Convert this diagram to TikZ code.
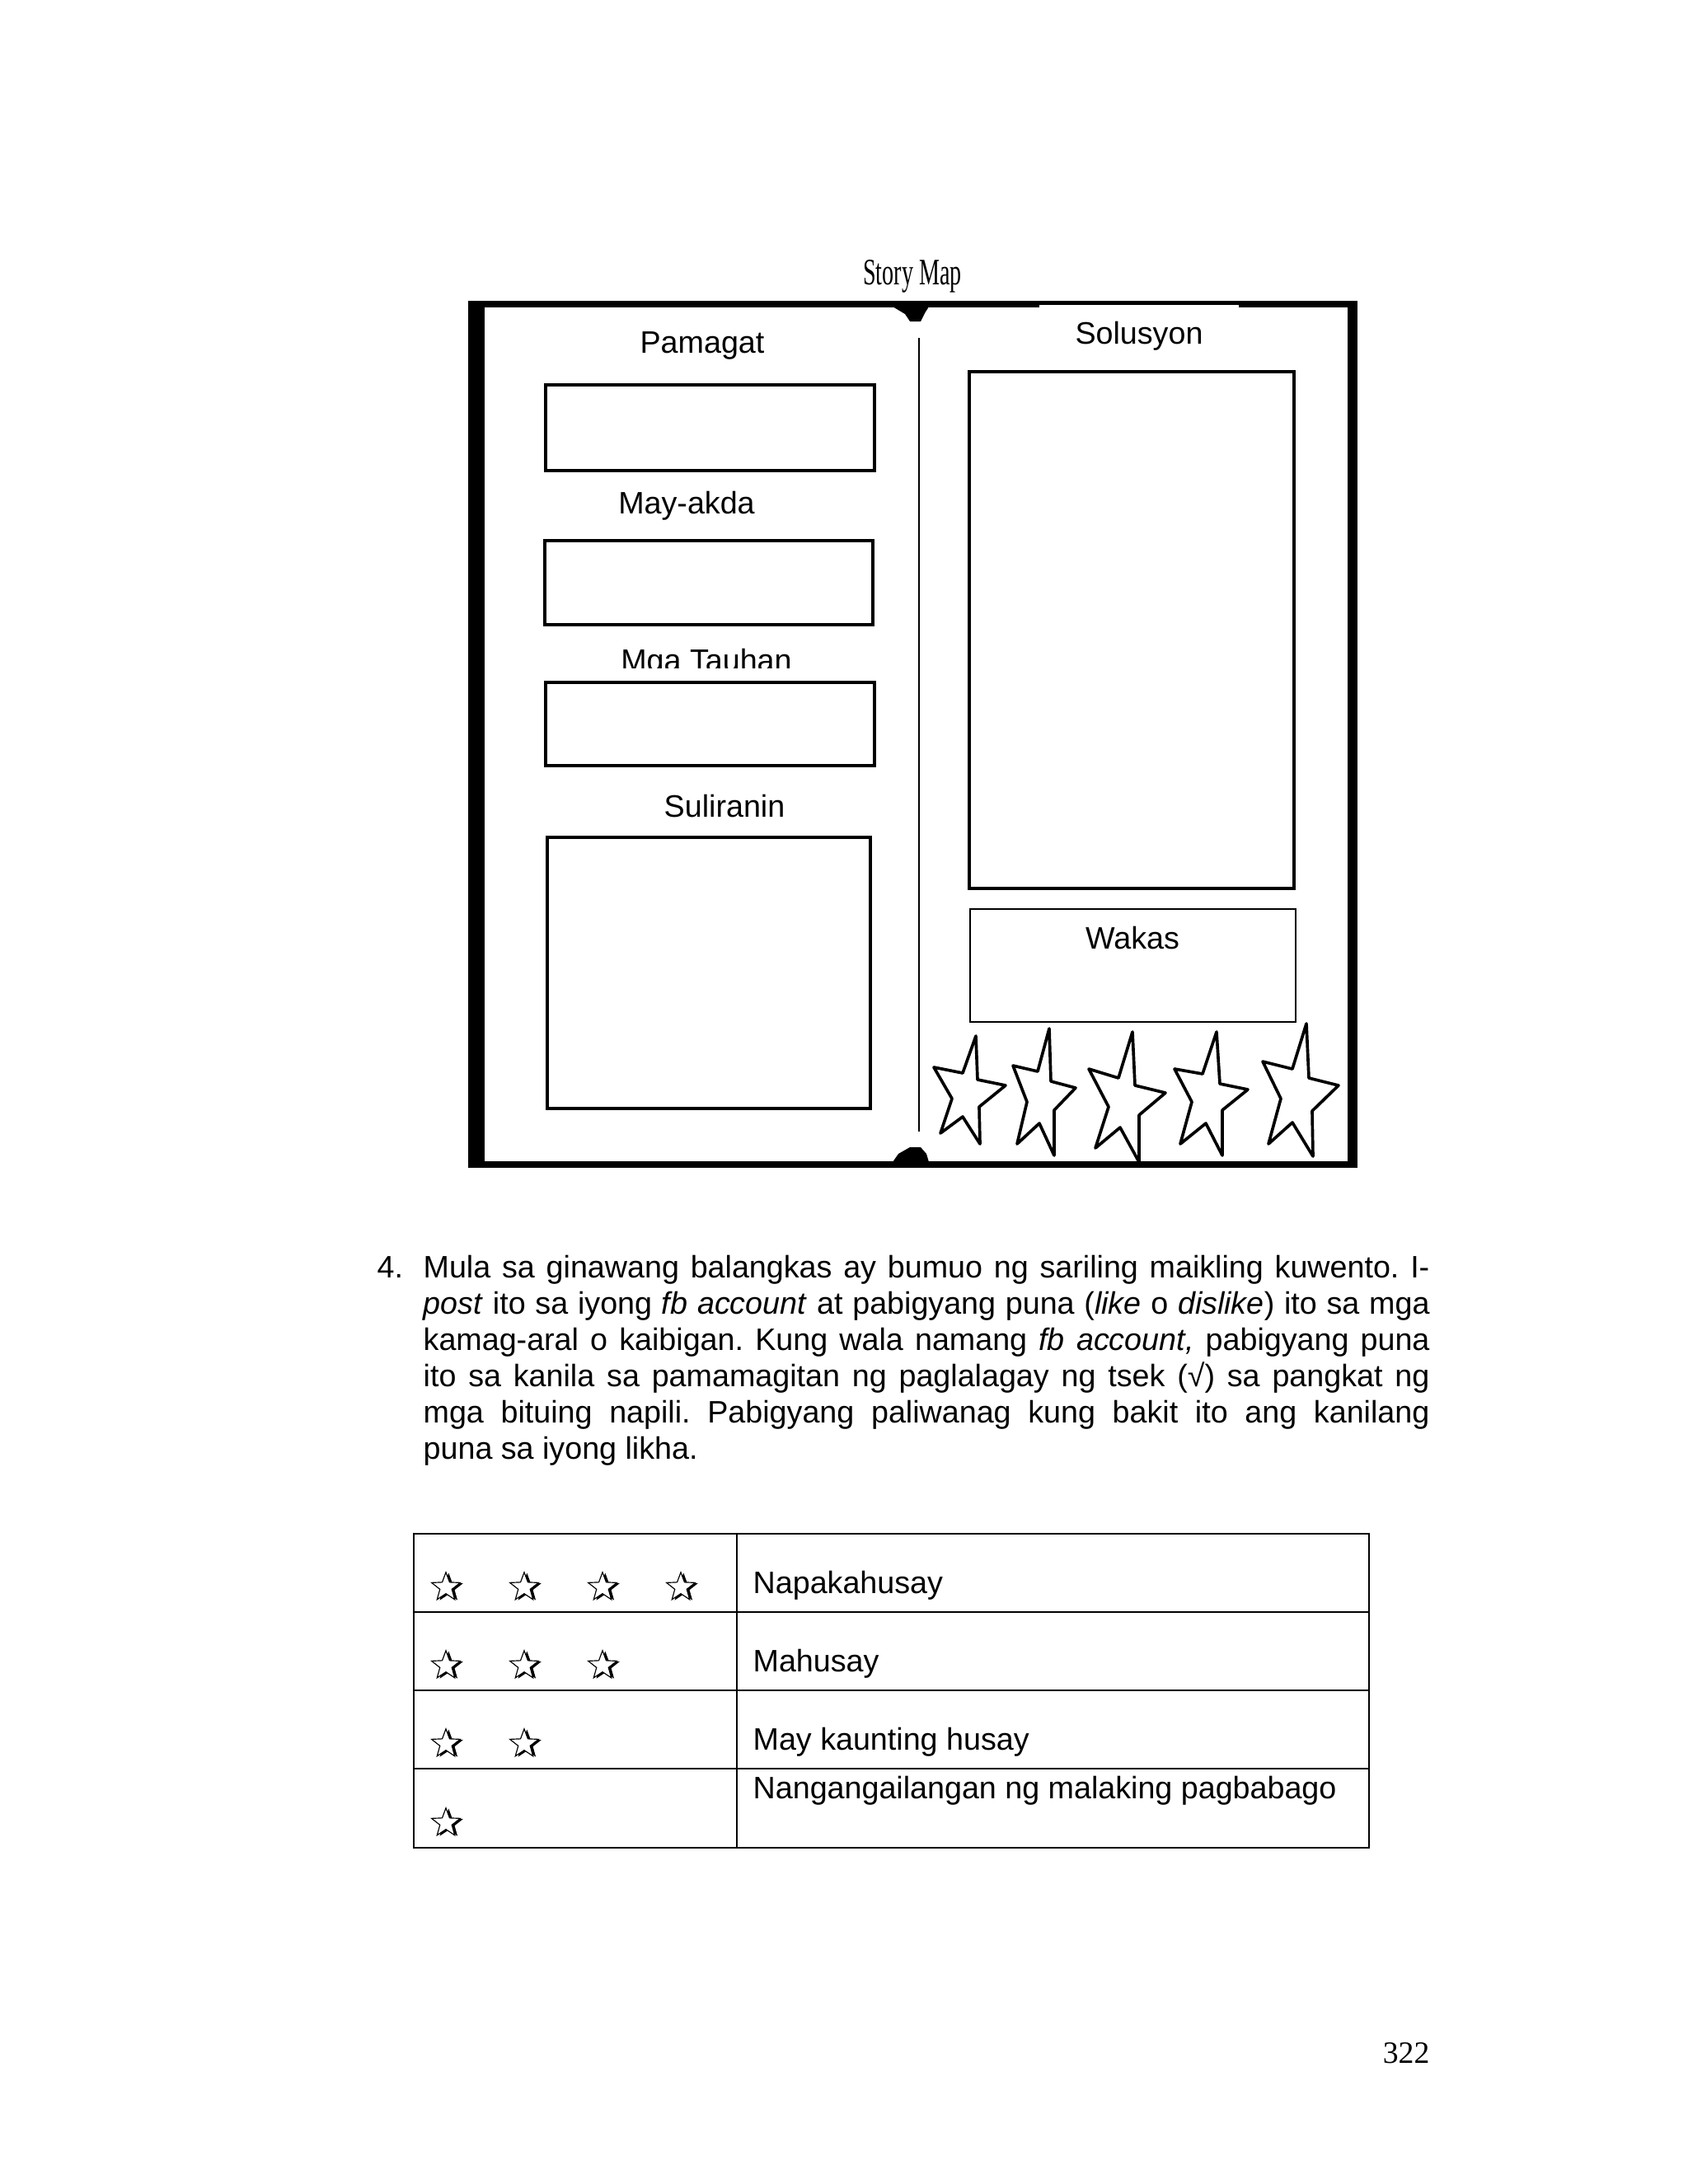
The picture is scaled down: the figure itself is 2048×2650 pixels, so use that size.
\documentclass[tikz,border=0pt]{standalone}
\usepackage{graphicx}
\usepackage{fontspec}
\setmainfont{Liberation Sans}
\newfontfamily\timesfont{Liberation Serif}
\usetikzlibrary{shapes.geometric,shadows}
\frenchspacing

\begin{document}
\begin{tikzpicture}[x=0.010542cm,y=-0.010542cm,
  lbl/.style={inner sep=0pt,font=\fontsize{11.3}{13.2}\selectfont},
  mapbox/.style={line width=1.2pt},
  mapstar/.style={line width=1.1pt,line join=round},
  tblline/.style={line width=0.5pt},
  tblstar/.style={star,star points=5,star point ratio=2.4,minimum size=0.385cm,
    inner sep=0pt,draw,line width=0.35pt,fill=white,
    drop shadow={shadow xshift=1pt,shadow yshift=-0.25pt,fill=black,opacity=1}}]
  \fill[white] (0,0) rectangle (2048,2650);
  \useasboundingbox (0,0) rectangle (2048,2650);

  \node[anchor=base,inner sep=0pt,font=\timesfont\fontsize{13.6}{14}\selectfont] (title)
    at (1107,345) {\scalebox{0.62}[1]{Story Map}};

  % book frame, spine and the two notches
  \fill (568,365) rectangle (1647,373);
  \fill (568,1409) rectangle (1647,1417);
  \fill (568,365) rectangle (588,1417);
  \fill (1635,365) rectangle (1647,1417);
  \fill[white] (1261,369.5) rectangle (1503,374);
  \fill (1083,372) -- (1127,372) -- (1122,380) -- (1117,390) -- (1104,390) -- (1098,381) -- cycle;
  \fill (1083,1410) -- (1090,1400) -- (1104,1392) -- (1117,1392) -- (1124,1400) -- (1127,1410) -- cycle;
  \draw[line width=0.8pt] (1115,410) -- (1115,1373);

  % left page
  \node[lbl,anchor=base] (pamagat) at (852,428) {Pamagat};
  \draw[mapbox] (662,467) rectangle (1061,571);
  \node[lbl,anchor=base] (mayakda) at (833,623) {May-akda};
  \draw[mapbox] (661,656) rectangle (1059,758);
  \begin{scope}
    \clip (700,770) rectangle (1020,810);
    \node[lbl,anchor=base] (tauhan) at (857,814) {Mga Tauhan};
  \end{scope}
  \draw[mapbox] (662,828) rectangle (1061,929);
  \node[lbl,anchor=base] (suliranin) at (879,991) {Suliranin};
  \draw[mapbox] (664,1016) rectangle (1056,1345);

  % right page
  \node[lbl,anchor=base] (solusyon) at (1382,417) {Solusyon};
  \draw[mapbox] (1176,451) rectangle (1570,1078);
  \draw[line width=0.8pt] (1177,1103) rectangle (1572,1240);
  \node[lbl,anchor=base] (wakas) at (1374,1151) {Wakas};

  \draw[mapstar] (1184,1257) -- (1168,1302) -- (1133,1295) -- (1155,1333) -- (1141,1375)
    -- (1168,1355) -- (1189,1388) -- (1188,1343) -- (1220,1317) -- (1186,1310) -- cycle;
  \draw[mapstar] (1273,1248) -- (1259,1300) -- (1229,1293) -- (1246,1337) -- (1234,1388)
    -- (1261,1363) -- (1279,1402) -- (1279,1347) -- (1305,1320) -- (1275,1312) -- cycle;
  \draw[mapstar] (1374,1252) -- (1357,1308) -- (1321,1297) -- (1345,1343) -- (1329,1393)
    -- (1359,1368) -- (1382,1410) -- (1382,1353) -- (1414,1326) -- (1377,1317) -- cycle;
  \draw[mapstar] (1476,1252) -- (1459,1303) -- (1425,1297) -- (1446,1337) -- (1432,1388)
    -- (1463,1363) -- (1483,1402) -- (1483,1347) -- (1514,1322) -- (1480,1315) -- cycle;
  \draw[mapstar] (1585,1242) -- (1568,1297) -- (1532,1288) -- (1554,1333) -- (1539,1388)
    -- (1568,1362) -- (1593,1403) -- (1592,1348) -- (1624,1317) -- (1588,1308) -- cycle;

  % item 4
  \node[lbl,anchor=base west] (num) at (457,1550) {4.};
  \node[lbl,anchor=base west,text width=12.872cm,align=justify] (para) at (513,1550)
    {\tolerance=9999 Mula sa ginawang balangkas ay bumuo ng sariling maikling kuwento. I-\linebreak
     \textit{post} ito sa iyong \textit{fb account} at pabigyang puna (\textit{like} o \textit{dislike}) ito sa mga\linebreak
     kamag-aral o kaibigan. Kung wala namang \textit{fb account,} pabigyang puna\linebreak
     ito sa kanila sa pamamagitan ng paglalagay ng tsek (√) sa pangkat ng\linebreak
     mga bituing napili. Pabigyang paliwanag kung bakit ito ang kanilang\linebreak
     puna sa iyong likha.};

  % rating table
  \draw[tblline] (502,1861) rectangle (1661,2242);
  \draw[tblline] (894,1861) -- (894,2242);
  \draw[tblline] (502,1956) -- (1661,1956);
  \draw[tblline] (502,2051) -- (1661,2051);
  \draw[tblline] (502,2146) -- (1661,2146);

  \node[tblstar] (a1) at (541,1926) {};
  \node[tblstar] (a2) at (636,1926) {};
  \node[tblstar] (a3) at (731,1926) {};
  \node[tblstar] (a4) at (826,1926) {};
  \node[tblstar] (b1) at (541,2021) {};
  \node[tblstar] (b2) at (636,2021) {};
  \node[tblstar] (b3) at (731,2021) {};
  \node[tblstar] (c1) at (541,2116) {};
  \node[tblstar] (c2) at (636,2116) {};
  \node[tblstar] (d1) at (541,2212) {};

  \node[lbl,anchor=base west] (napaka) at (913,1933) {Napakahusay};
  \node[lbl,anchor=base west] (mahusay) at (913,2028) {Mahusay};
  \node[lbl,anchor=base west] (kaunti) at (913,2123) {May kaunting husay};
  \node[lbl,anchor=base west] (bago) at (913,2182) {Nangangailangan ng malaking pagbabago};

  \node[anchor=base east,inner sep=0pt,font=\timesfont\fontsize{11.3}{13}\selectfont] (pnum)
    at (1735,2503) {322};
\end{tikzpicture}
\end{document}
